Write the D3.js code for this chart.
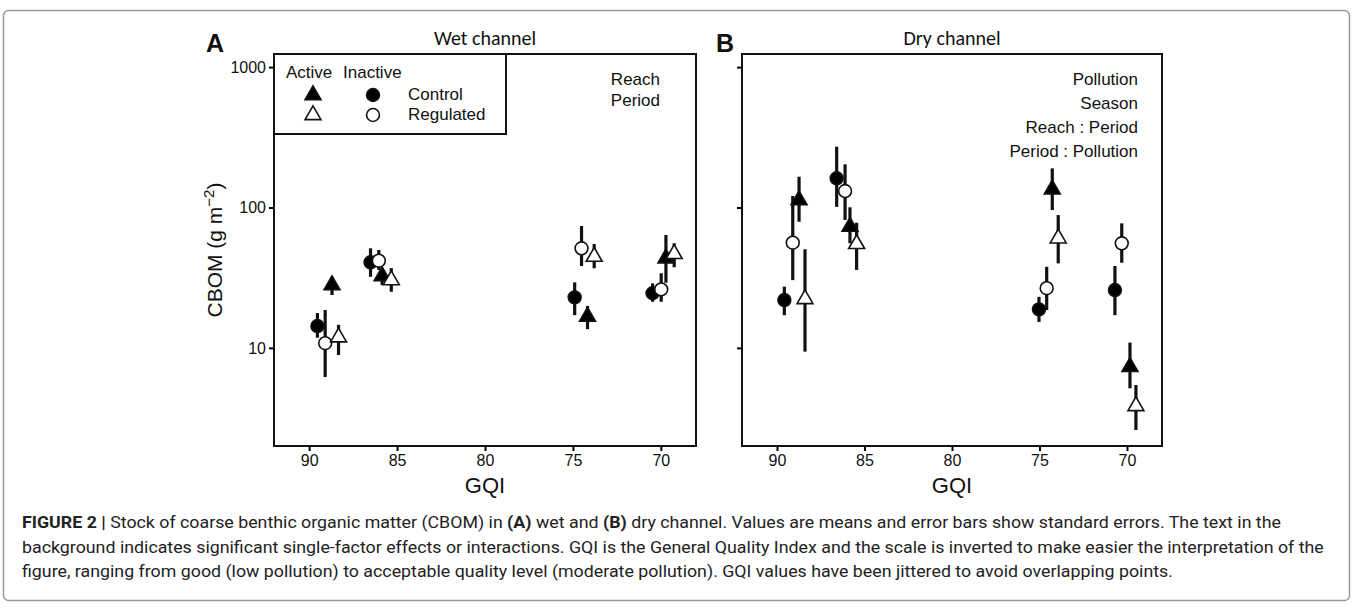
<!DOCTYPE html>
<html>
<head>
<meta charset="utf-8">
<script src="https://cdn.jsdelivr.net/npm/d3@7"></script>
<style>
  body { margin: 0; background: #fff; }
  svg { display: block; }
</style>
</head>
<body>
<svg id="fig" width="1354" height="608"></svg>
<script>
// each row: [GQI (jittered), mean CBOM, mean - SE, mean + SE]
// wet channel
const wetActiveControl    = [[88.70, 28.0, 23.8, 32.1], [85.85, 32.5, 28.0, 37.1], [74.17, 16.7, 13.6, 19.9], [69.71, 43.5, 29.1, 63.7]];
const wetActiveRegulated  = [[88.33, 11.9, 8.9, 14.6], [85.33, 30.4, 25.1, 37.0], [73.79, 44.6, 36.9, 54.9], [69.24, 46.7, 37.5, 55.6]];
const wetInactiveControl  = [[89.53, 14.3, 11.8, 17.7], [86.51, 40.7, 32.1, 51.2], [74.90, 22.9, 17.1, 29.3], [70.47, 24.5, 21.3, 28.8]];
const wetInactiveRegulated = [[89.09, 10.8, 6.2, 18.6], [86.04, 41.8, 35.9, 49.8], [74.51, 51.2, 38.3, 73.8], [69.98, 26.1, 21.3, 34.0]];
// dry channel
const dryActiveControl    = [[88.74, 113, 79.2, 165.6], [85.83, 73, 55.6, 100.3], [74.27, 134.7, 95.9, 190], [69.83, 7.34, 5.15, 10.9]];
const dryActiveRegulated  = [[88.40, 22.3, 9.4, 50.4], [85.45, 55, 35.9, 77.9], [73.93, 60.3, 40, 88.3], [69.49, 3.85, 2.6, 5.44]];
const dryInactiveControl  = [[89.58, 21.9, 17.1, 27.3], [86.59, 161.4, 101, 271], [75.03, 18.8, 15.3, 23.1], [70.69, 25.8, 17.1, 38.3]];
const dryInactiveRegulated = [[89.10, 56.1, 30.4, 120.8], [86.11, 131, 81.4, 203], [74.59, 26.6, 18.6, 37.8], [70.30, 55.6, 40.4, 77.1]];

const gqiTicks = [90, 85, 80, 75, 70];
const cbomTicks = [10, 100, 1000];
const wetEffects = ["Reach", "Period"];
const dryEffects = ["Pollution", "Season", "Reach : Period", "Period : Pollution"];
const legendCols = ["Active", "Inactive"];
const legendRows = ["Control", "Regulated"];

const sans = "'Liberation Sans', Arial, sans-serif";
const titleFont = "Carlito, Lato, 'Open Sans', sans-serif";

const svg = d3.select("#fig");

// thin frame round the whole figure
svg.append("rect")
    .attr("x", 3.5).attr("y", 10.5)
    .attr("width", 1346).attr("height", 590)
    .attr("rx", 5)
    .attr("fill", "none")
    .attr("stroke", "#9a9a9a")
    .attr("stroke-width", 1.5);

const plotTop = 54, plotBottom = 446;

// shape: triangle = Active, circle = Inactive ; fill: black = Control, white = Regulated
function seriesOf(ac, ar, ic, ir) {
    return [
        {rows: ic, shape: d3.symbolCircle, fill: "black"},
        {rows: ir, shape: d3.symbolCircle, fill: "white"},
        {rows: ac, shape: d3.symbolTriangle, fill: "black"},
        {rows: ar, shape: d3.symbolTriangle, fill: "white"}
    ];
}

const panels = [
    {letter: "A", title: "Wet channel", left: 274, right: 696, letterX: 206,
     series: seriesOf(wetActiveControl, wetActiveRegulated, wetInactiveControl, wetInactiveRegulated),
     effects: wetEffects, effectsX: 660, effectsY: 85, effectsGap: 21, labels: true, legend: true},
    {letter: "B", title: "Dry channel", left: 742, right: 1162, letterX: 716,
     series: seriesOf(dryActiveControl, dryActiveRegulated, dryInactiveControl, dryInactiveRegulated),
     effects: dryEffects, effectsX: 1138, effectsY: 85, effectsGap: 24, labels: false, legend: false}
];

function symbolSize(shape) {
    return shape === d3.symbolCircle ? 130 : 110;
}

panels.forEach(p => {
    const x = d3.scaleLinear().domain([92, 68]).range([p.left, p.right]);
    const y = d3.scaleLog().domain([2, 1240]).range([plotBottom, plotTop]);
    const g = svg.append("g");

    // axes
    const xAxis = g.append("g")
        .attr("transform", `translate(0,${plotBottom})`)
        .call(d3.axisBottom(x).tickValues(gqiTicks).tickSize(5).tickPadding(4));
    const yAxis = g.append("g")
        .attr("transform", `translate(${p.left},0)`)
        .call(d3.axisLeft(y).tickValues(cbomTicks).tickSize(5).tickPadding(3)
            .tickFormat(p.labels ? d3.format("d") : () => ""));
    [xAxis, yAxis].forEach(a => {
        a.select(".domain").remove();
        a.selectAll(".tick line").attr("stroke", "black").attr("stroke-width", 2);
        a.selectAll(".tick text").attr("fill", "#111").style("font", `16px ${sans}`);
    });

    // panel frame
    g.append("rect")
        .attr("x", p.left).attr("y", plotTop)
        .attr("width", p.right - p.left).attr("height", plotBottom - plotTop)
        .attr("fill", "none").attr("stroke", "#111").attr("stroke-width", 2);

    g.append("text")
        .attr("x", (p.left + p.right) / 2).attr("y", 493)
        .attr("text-anchor", "middle")
        .style("font", `22px ${sans}`).attr("fill", "#111")
        .text("GQI");

    g.append("text")
        .attr("x", (p.left + p.right) / 2).attr("y", 45)
        .attr("text-anchor", "middle")
        .style("font", `20px ${titleFont}`).attr("fill", "#111")
        .text(p.title);

    g.append("text")
        .attr("x", p.letterX).attr("y", 52)
        .style("font", `bold 25px ${sans}`).attr("fill", "#111")
        .text(p.letter);

    // significant effects
    g.append("g").selectAll("text")
        .data(p.effects)
        .join("text")
        .attr("x", p.effectsX)
        .attr("y", (d, i) => p.effectsY + i * p.effectsGap)
        .attr("text-anchor", "end")
        .style("font", `17px ${sans}`).attr("fill", "#111")
        .text(d => d);

    // error bars
    const marks = g.append("g");
    p.series.forEach(s => {
        marks.append("g").selectAll("line")
            .data(s.rows)
            .join("line")
            .attr("x1", d => x(d[0])).attr("x2", d => x(d[0]))
            .attr("y1", d => y(d[2])).attr("y2", d => y(d[3]))
            .attr("stroke", "#111").attr("stroke-width", 3.2);
    });
    p.series.forEach(s => {
        marks.append("g").selectAll("path")
            .data(s.rows)
            .join("path")
            .attr("transform", d => `translate(${x(d[0])},${y(d[1])})`)
            .attr("d", d3.symbol().type(s.shape).size(symbolSize(s.shape)))
            .attr("fill", s.fill)
            .attr("stroke", "#111").attr("stroke-width", 1.6);
    });

    if (p.legend) {
        const lg = g.append("g");
        lg.append("rect")
            .attr("x", p.left).attr("y", plotTop)
            .attr("width", 232).attr("height", 80)
            .attr("fill", "white").attr("stroke", "#111").attr("stroke-width", 2);
        const colX = [313, 373];
        const rowY = [95, 115];
        lg.selectAll(".col").data(legendCols).join("text")
            .attr("x", (d, i) => [286, 343][i]).attr("y", 78)
            .style("font", `17px ${sans}`).attr("fill", "#111")
            .text(d => d);
        lg.selectAll(".row").data(legendRows).join("text")
            .attr("x", 408).attr("y", (d, i) => rowY[i] + 5)
            .style("font", `17px ${sans}`).attr("fill", "#111")
            .text(d => d);
        const keys = [];
        [d3.symbolTriangle, d3.symbolCircle].forEach((shape, ci) => {
            ["black", "white"].forEach((fill, ri) => keys.push({shape, fill, x: colX[ci], y: rowY[ri]}));
        });
        lg.selectAll("path").data(keys).join("path")
            .attr("transform", d => `translate(${d.x},${d.y})`)
            .attr("d", d => d3.symbol().type(d.shape).size(symbolSize(d.shape))())
            .attr("fill", d => d.fill)
            .attr("stroke", "#111").attr("stroke-width", 1.6);
    }
});

// y axis title
const yTitle = svg.append("text")
    .attr("transform", "translate(222,250) rotate(-90)")
    .attr("text-anchor", "middle")
    .style("font", `21px ${sans}`).attr("fill", "#111");
yTitle.append("tspan").text("CBOM (g m");
yTitle.append("tspan").attr("dy", -8).style("font-size", "15px").text("\u22122");
yTitle.append("tspan").attr("dy", 8).text(")");

// caption: one condensing factor for all lines, taken from the longest line
const captionLines = [
    [["FIGURE 2 | ", true], ["Stock of coarse benthic organic matter (CBOM) in ", false], ["(A)", true], [" wet and ", false], ["(B)", true],
     [" dry channel. Values are means and error bars show standard errors. The text in the", false]],
    [["background indicates significant single-factor effects or interactions. GQI is the General Quality Index and the scale is inverted to make easier the interpretation of the", false]],
    [["figure, ranging from good (low pollution) to acceptable quality level (moderate pollution). GQI values have been jittered to avoid overlapping points.", false]]
];
const captionFont = "Roboto, 'Liberation Sans', sans-serif";

const captionNodes = captionLines.map((parts, i) => {
    const t = svg.append("text")
        .attr("x", 0).attr("y", 0)
        .style("font", `17px ${captionFont}`).attr("fill", "#222");
    parts.forEach(([s, bold]) => {
        t.append("tspan").style("font-weight", bold ? "bold" : "normal").text(s);
    });
    return t;
});
const squeeze = 1303 / captionNodes[1].node().getComputedTextLength();
captionNodes.forEach((t, i) => {
    t.attr("transform", `translate(22,${528 + i * 24.5}) scale(${squeeze},1)`);
});
</script>
</body>
</html>
